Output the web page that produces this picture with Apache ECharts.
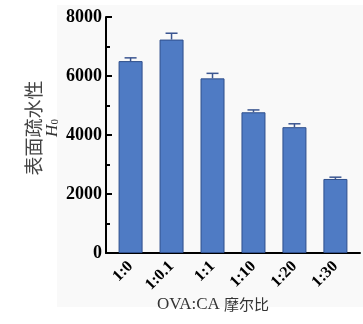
<!DOCTYPE html>
<html>
<head>
<meta charset="utf-8">
<script src="https://cdn.jsdelivr.net/npm/echarts@6/dist/echarts.min.js"></script>
<style>
  html, body { margin: 0; padding: 0; background: #ffffff; }
  #chart { width: 363px; height: 324px; }
</style>
</head>
<body>
<div id="chart"></div>
<script>
// Surface hydrophobicity H0 of OVA at different OVA:CA molar ratios
const categories = ['1:0', '1:0.1', '1:1', '1:10', '1:20', '1:30'];
const h0Values = [6505, 7235, 5920, 4770, 4265, 2510];
const h0Errors = [110, 215, 170, 80, 115, 60];
const yTicks = [0, 2000, 4000, 6000, 8000];

const serif = '"Liberation Serif", "DejaVu Serif", serif';
const cjk = '"Noto Sans CJK SC", sans-serif';

const barData = h0Values.map((v, i) => [i, v]);
const errData = h0Values.map((v, i) => [i, v, v + h0Errors[i]]);

const chart = echarts.init(document.getElementById('chart'), null, { renderer: 'canvas' });

chart.setOption({
  backgroundColor: '#ffffff',
  animation: false,
  graphic: [{
    type: 'rect',
    z: -10,
    silent: true,
    shape: { x: 57, y: 5, width: 306, height: 302 },
    style: { fill: '#f9f9f9' }
  }],
  grid: { left: 106, right: 3, top: 17, bottom: 71, containLabel: false },
  xAxis: {
    type: 'value',
    min: -0.6,
    max: 5.6,
    splitLine: { show: false },
    axisLine: { show: true, onZero: false, lineStyle: { color: '#000', width: 2 } },
    axisTick: {
      show: true, inside: true, length: 4,
      customValues: categories.map((c, i) => i),
      lineStyle: { color: '#111', width: 2 }
    },
    axisLabel: {
      show: true,
      customValues: categories.map((c, i) => i),
      formatter: v => categories[Math.round(v)],
      rotate: 45,
      margin: 11,
      fontFamily: serif,
      fontWeight: 'bold',
      fontSize: 16,
      color: '#000'
    },
    name: '{a|OVA:CA }{b|摩尔比}',
    nameLocation: 'middle',
    nameMoveOverlap: false,
    nameGap: 43,
    nameTextStyle: {
      padding: [0, 40, 0, 0],
      rich: {
        a: { fontFamily: serif, fontSize: 17, color: '#333' },
        b: { fontFamily: cjk, fontSize: 15, color: '#333' }
      }
    }
  },
  yAxis: {
    type: 'value',
    min: 0,
    max: 8000,
    interval: 2000,
    splitLine: { show: false },
    axisLine: { show: true, onZero: false, lineStyle: { color: '#000', width: 2 } },
    axisTick: { show: true, inside: true, length: 6, lineStyle: { color: '#000', width: 2 } },
    minorTick: { show: true, splitNumber: 2, length: 4, lineStyle: { color: '#000', width: 2 } },
    axisLabel: {
      margin: 4,
      fontFamily: serif,
      fontWeight: 'bold',
      fontSize: 18,
      color: '#000',
      customValues: yTicks,
      formatter: v => String(v)
    },
    name: '{a|表面疏水性}\n{h|H}{s|0}',
    nameLocation: 'middle',
    nameMoveOverlap: false,
    nameRotate: 90,
    nameGap: 45,
    nameTextStyle: {
      align: 'center',
      padding: [0, 0, 0, 14],
      rich: {
        a: { fontFamily: cjk, fontSize: 19, color: '#444', lineHeight: 22, align: 'center' },
        h: { fontFamily: serif, fontStyle: 'italic', fontSize: 17, color: '#333', lineHeight: 16 },
        s: { fontFamily: serif, fontSize: 11, color: '#333', verticalAlign: 'bottom', lineHeight: 12 }
      }
    }
  },
  series: [
    {
      type: 'bar',
      data: barData,
      barWidth: 24,
      itemStyle: { color: '#4f7bc4', borderColor: '#2f4f8c', borderWidth: 1 },
      z: 2
    },
    {
      type: 'custom',
      data: errData,
      z: 3,
      renderItem: function (params, api) {
        const x = api.value(0);
        const top = api.coord([x, api.value(1)]);
        const hi = api.coord([x, api.value(2)]);
        const half = 6;
        const style = { stroke: '#3a5590', lineWidth: 1.5 };
        return {
          type: 'group',
          children: [
            { type: 'line', shape: { x1: top[0], y1: top[1], x2: hi[0], y2: hi[1] }, style: style },
            { type: 'line', shape: { x1: hi[0] - half, y1: hi[1], x2: hi[0] + half, y2: hi[1] }, style: style }
          ]
        };
      }
    }
  ]
});
</script>
</body>
</html>
